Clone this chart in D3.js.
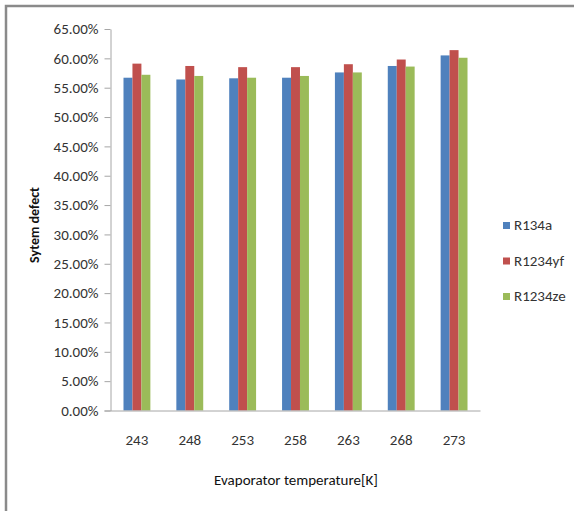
<!DOCTYPE html>
<html>
<head>
<meta charset="utf-8">
<script src="https://cdn.jsdelivr.net/npm/d3@7"></script>
<style>
  body { margin: 0; background: #fff; }
  svg text { font-family: Carlito, Lato, sans-serif; fill: #333; }
</style>
</head>
<body>
<svg id="chart" width="574" height="511"></svg>
<script>
var temps = ["243", "248", "253", "258", "263", "268", "273"];
var seriesNames = ["R134a", "R1234yf", "R1234ze"];
var r134a = [56.7, 56.4, 56.6, 56.7, 57.6, 58.7, 60.5];
var r1234yf = [59.1, 58.7, 58.5, 58.5, 59.0, 59.8, 61.4];
var r1234ze = [57.2, 57.0, 56.7, 57.0, 57.6, 58.6, 60.1];
var yTicks = [0, 5, 10, 15, 20, 25, 30, 35, 40, 45, 50, 55, 60, 65];
var colors = ["#4f81bd", "#c0504d", "#9bbb59"];

var values = [r134a, r1234yf, r1234ze];
var svg = d3.select("#chart");

// frame (left + top only, as in the picture)
svg.append("path")
    .attr("d", "M6,511 V6 H574")
    .attr("fill", "none")
    .attr("stroke", "#8a8a8a")
    .attr("stroke-width", 2.5);

var plotL = 110.5, plotR = 480.5, plotT = 29, plotB = 410.5;

var x = d3.scaleBand().domain(temps).range([plotL, plotR]);
var xs = d3.scaleBand().domain(seriesNames)
    .range([0, x.bandwidth()]).paddingInner(0).paddingOuter(1.45);
var y = d3.scaleLinear().domain([0, 65]).range([plotB, plotT]);

// bars
var groups = svg.append("g").selectAll("g")
    .data(temps)
    .join("g")
    .attr("transform", function (d) { return "translate(" + x(d) + ",0)"; });

groups.selectAll("rect")
    .data(function (d, i) {
        return seriesNames.map(function (s, j) { return { s: s, v: values[j][i], c: colors[j] }; });
    })
    .join("rect")
    .attr("x", function (d) { return xs(d.s); })
    .attr("width", xs.bandwidth())
    .attr("y", function (d) { return y(d.v); })
    .attr("height", function (d) { return plotB - y(d.v); })
    .attr("fill", function (d) { return d.c; });

// y axis
var yAxis = svg.append("g")
    .attr("transform", "translate(" + plotL + ",0)")
    .call(d3.axisLeft(y).tickValues(yTicks).tickSize(6).tickSizeOuter(0)
        .tickFormat(function (d) { return d.toFixed(2) + "%"; }));
yAxis.select(".domain").attr("stroke", "#a6a6a6");
yAxis.selectAll(".tick line").attr("stroke", "#a6a6a6");
yAxis.selectAll(".tick text").attr("font-size", 15).attr("x", -12).attr("fill", "#333");

// x axis
var xAxis = svg.append("g")
    .attr("transform", "translate(0," + plotB + ")")
    .call(d3.axisBottom(x).tickSize(0).tickSizeOuter(0).tickPadding(24));
xAxis.select(".domain").attr("stroke", "#a6a6a6").attr("d", "M" + (plotL - 6) + ",0.5H" + plotR);
xAxis.selectAll(".tick text").attr("font-size", 15).attr("fill", "#333");

// axis titles
svg.append("text")
    .attr("transform", "translate(39,225) rotate(-90)")
    .attr("text-anchor", "middle")
    .attr("font-size", 14)
    .attr("font-weight", "bold")
    .style("fill", "#111")
    .text("Sytem defect");

svg.append("text")
    .attr("x", 296)
    .attr("y", 485)
    .attr("text-anchor", "middle")
    .attr("font-size", 15)
    .style("fill", "#111")
    .text("Evaporator temperature[K]");

// legend
var legend = svg.append("g").selectAll("g")
    .data(seriesNames)
    .join("g")
    .attr("transform", function (d, i) { return "translate(503," + (222 + i * 35.5) + ")"; });
legend.append("rect")
    .attr("width", 7).attr("height", 7)
    .attr("fill", function (d, i) { return colors[i]; });
legend.append("text")
    .attr("x", 11).attr("y", 8)
    .attr("font-size", 15)
    .text(function (d) { return d; });
</script>
</body>
</html>
